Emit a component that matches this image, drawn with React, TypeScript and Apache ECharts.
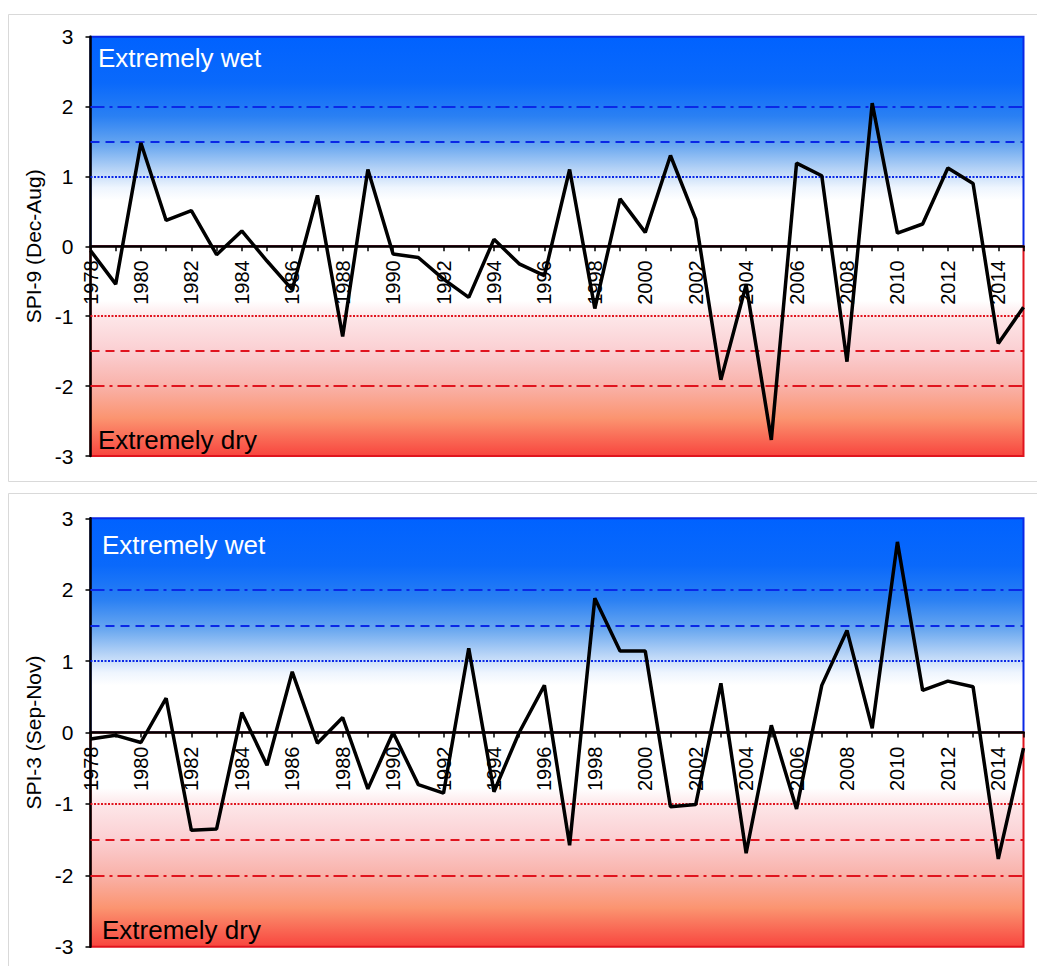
import React, { useEffect, useRef } from "react";
import * as echarts from "echarts";

const years: string[] = [];
for (let y = 1978; y <= 2015; y++) years.push(String(y));

const spi9 = [
  -0.06, -0.54, 1.48, 0.37, 0.51, -0.12, 0.22, -0.21, -0.62, 0.73, -1.29,
  1.1, -0.11, -0.16, -0.47, -0.73, 0.1, -0.25, -0.42, 1.1, -0.89, 0.68, 0.2, 1.3,
  0.39, -1.91, -0.55, -2.77, 1.19, 1.01, -1.65, 2.05, 0.19, 0.32, 1.12, 0.9, -1.39, -0.87,
];

const spi3 = [
  -0.09, -0.04, -0.14, 0.48, -1.37, -1.35, 0.28, -0.46, 0.85, -0.15, 0.21,
  -0.79, 0.0, -0.73, -0.85, 1.18, -0.83, 0.0, 0.66, -1.58, 1.88, 1.14, 1.14, -1.04,
  -1.01, 0.69, -1.69, 0.1, -1.07, 0.66, 1.43, 0.06, 2.67, 0.59, 0.72, 0.64, -1.77, -0.22,
];

const panelNames = ["SPI-9 (Dec-Aug)", "SPI-3 (Sep-Nov)"];
const thresholdValues = [2, 1.5, 1, -1, -1.5, -2];
const wetLabel = "Extremely wet";
const dryLabel = "Extremely dry";

const FONT = '"Liberation Sans", Arial, sans-serif';
const BLUE = "#0a28e6";
const RED = "#e0141e";

function lineType(v: number): any {
  const a = Math.abs(v);
  if (a === 2) return [14, 5, 3, 5];
  if (a === 1.5) return [9, 6];
  return [2, 1.5];
}

export default function App() {
  const ref = useRef<HTMLDivElement>(null);

  useEffect(() => {
    document.body.style.margin = "0";
    const chart = echarts.init(ref.current!, undefined, { renderer: "svg" });

    const grids = [
      { left: 90.5, top: 36.7, width: 933, height: 419.3 },
      { left: 90.5, top: 518.3, width: 933, height: 428.4 },
    ];

    const upperGrad = new echarts.graphic.LinearGradient(0, 0, 0, 1, [
      { offset: 0, color: "#0062ff" },
      { offset: 0.22, color: "#0a69fb" },
      { offset: 0.38, color: "#2a80f3" },
      { offset: 0.52, color: "#6aa8f0" },
      { offset: 0.63, color: "#b4d2f6" },
      { offset: 0.72, color: "#eef5fe" },
      { offset: 0.78, color: "#ffffff" },
      { offset: 1, color: "#ffffff" },
    ]);
    const lowerGrad = new echarts.graphic.LinearGradient(0, 0, 0, 1, [
      { offset: 0, color: "#ffffff" },
      { offset: 0.26, color: "#ffffff" },
      { offset: 0.34, color: "#fde6e8" },
      { offset: 0.5, color: "#fbcfd2" },
      { offset: 0.66, color: "#f9b3ab" },
      { offset: 0.82, color: "#fb9470" },
      { offset: 1, color: "#f8453e" },
    ]);

    const xAxes: any[] = [];
    const yAxes: any[] = [];
    const series: any[] = [];
    const datasets = [spi9, spi3];

    grids.forEach((g, i) => {
      xAxes.push({
        type: "category",
        gridIndex: i,
        position: "bottom",
        offset: -g.height / 2,
        data: years,
        boundaryGap: false,
        z: 3,
        axisLine: { onZero: false, lineStyle: { color: "#000", width: 2.5 } },
        axisTick: { show: true, interval: 0, length: 5, lineStyle: { color: "#000", width: 1.5 } },
        axisLabel: {
          interval: 1,
          rotate: 90,
          fontSize: 20,
          color: "#000",
          margin: 14,
          fontFamily: FONT,
        },
        splitLine: { show: false },
      });
      yAxes.push({
        type: "value",
        gridIndex: i,
        min: -3,
        max: 3,
        interval: 1,
        z: 3,
        name: panelNames[i],
        nameLocation: "middle",
        nameGap: 46,
        nameTextStyle: { fontSize: 21, color: "#000", fontFamily: FONT },
        axisLine: { show: true, lineStyle: { color: "#000", width: 2.5 } },
        axisTick: { show: true, length: 5, lineStyle: { color: "#000", width: 1.5 } },
        axisLabel: { fontSize: 21, color: "#000", margin: 17, fontFamily: FONT },
        splitLine: { show: false },
      });
      series.push({
        type: "line",
        xAxisIndex: i,
        yAxisIndex: i,
        data: datasets[i],
        z: 1,
        silent: true,
        symbol: "none",
        lineStyle: { opacity: 0, width: 0 },
        markArea: {
          silent: true,
          data: [
            [
              {
                yAxis: 0,
                itemStyle: { color: upperGrad, opacity: 1, borderColor: BLUE, borderWidth: 2 },
              },
              { yAxis: 3 },
            ],
            [
              {
                yAxis: -3,
                itemStyle: { color: lowerGrad, opacity: 1, borderColor: RED, borderWidth: 2 },
              },
              { yAxis: 0 },
            ],
          ],
        },
        markLine: {
          silent: true,
          symbol: ["none", "none"],
          label: { show: false },
          data: thresholdValues.map((v) => ({
            yAxis: v,
            lineStyle: { color: v > 0 ? BLUE : RED, type: lineType(v), width: 2 },
          })),
        },
      });
      series.push({
        type: "line",
        xAxisIndex: i,
        yAxisIndex: i,
        data: datasets[i],
        z: 5,
        symbol: "none",
        lineStyle: { color: "#000", width: 3.5 },
      });
    });

    const option: any = {
      animation: false,
      backgroundColor: "#ffffff",
      grid: grids,
      xAxis: xAxes,
      yAxis: yAxes,
      series,
      graphic: [
        {
          type: "rect",
          z: -10,
          shape: { x: 8.5, y: 14.5, width: 1040, height: 467 },
          style: { fill: "none", stroke: "#d9d9d9", lineWidth: 1 },
        },
        {
          type: "rect",
          z: -10,
          shape: { x: 8.5, y: 493.5, width: 1040, height: 480 },
          style: { fill: "none", stroke: "#d9d9d9", lineWidth: 1 },
        },
        {
          type: "text",
          x: 98,
          y: 58,
          z: 10,
          style: { text: wetLabel, fill: "#ffffff", fontSize: 26, fontFamily: FONT, verticalAlign: "middle" },
        },
        {
          type: "text",
          x: 98,
          y: 440,
          z: 10,
          style: { text: dryLabel, fill: "#000000", fontSize: 26, fontFamily: FONT, verticalAlign: "middle" },
        },
        {
          type: "text",
          x: 102,
          y: 545,
          z: 10,
          style: { text: wetLabel, fill: "#ffffff", fontSize: 26, fontFamily: FONT, verticalAlign: "middle" },
        },
        {
          type: "text",
          x: 102,
          y: 930,
          z: 10,
          style: { text: dryLabel, fill: "#000000", fontSize: 26, fontFamily: FONT, verticalAlign: "middle" },
        },
      ],
    };

    chart.setOption(option);
    return () => chart.dispose();
  }, []);

  return <div ref={ref} style={{ width: 1037, height: 966 }} />;
}
